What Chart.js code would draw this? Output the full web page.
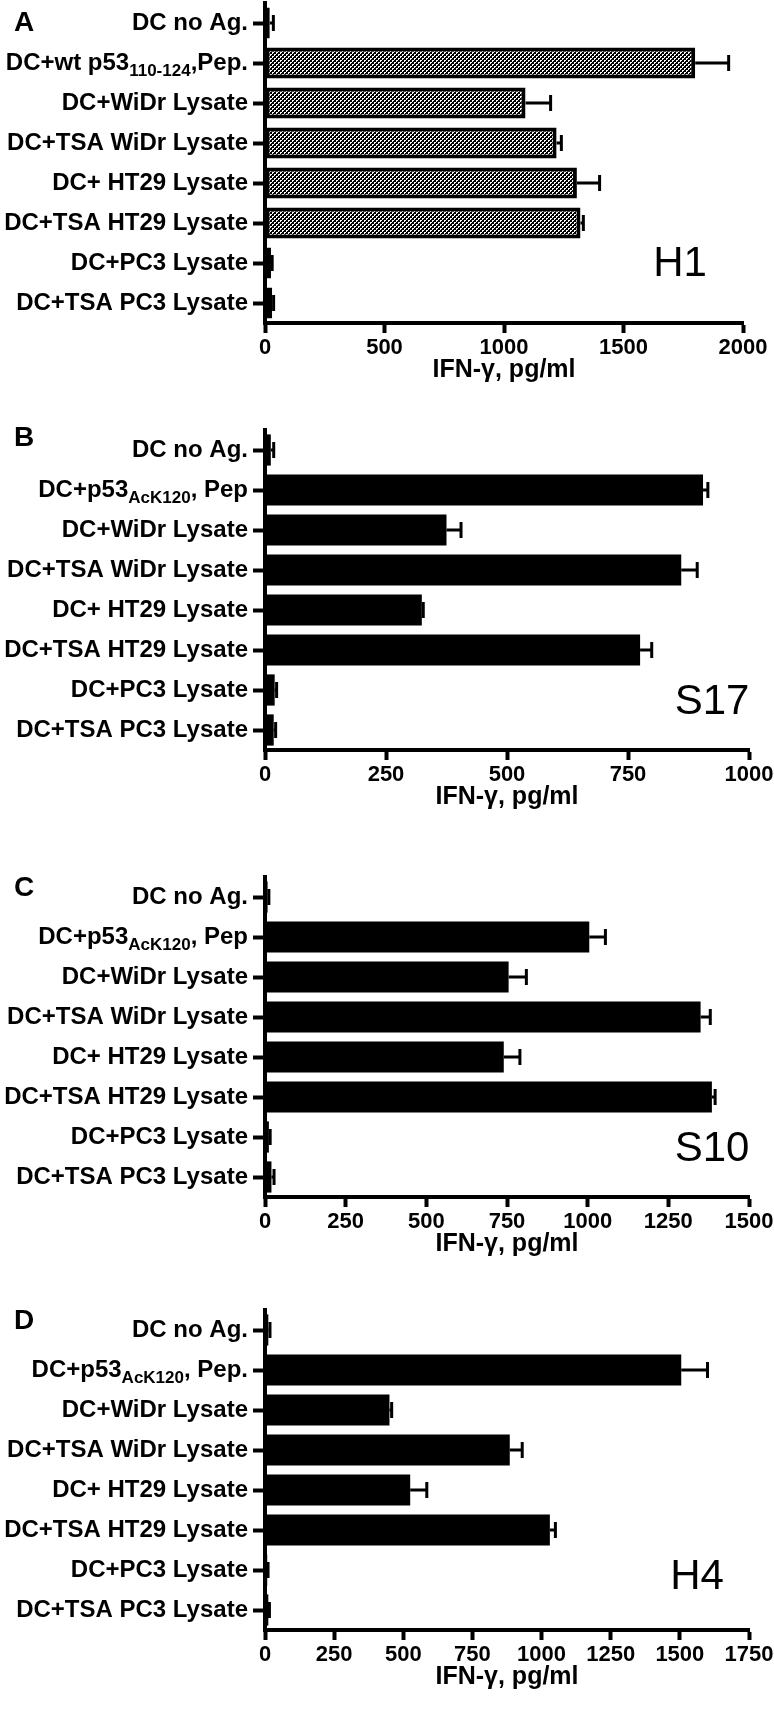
<!DOCTYPE html>
<html>
<head>
<meta charset="utf-8">
<script src="https://cdn.jsdelivr.net/npm/chart.js@4.4.1/dist/chart.umd.min.js"></script>
<style>
  html, body { margin: 0; padding: 0; background: #fff; }
  #fig { position: relative; width: 774px; height: 1711px; overflow: hidden; background: #fff; }
  .letter { position: absolute; font: bold 28px "Liberation Sans", Arial, sans-serif; transform: translate(-50%, -50%); line-height: 1; }
  .donor { position: absolute; font: 42px "Liberation Sans", Arial, sans-serif; transform: translate(-50%, -50%); line-height: 1; }
</style>
</head>
<body>
<div id="fig"></div>
<script>
/* ---------------- data ---------------- */

const labelsA = ["DC no Ag.", "DC+wt p53_{110-124},Pep.", "DC+WiDr Lysate", "DC+TSA WiDr Lysate",
                 "DC+ HT29 Lysate", "DC+TSA HT29 Lysate", "DC+PC3 Lysate", "DC+TSA PC3 Lysate"];
const valuesA = [20, 1800, 1090, 1220, 1305, 1320, 25, 30];
const errorsA = [15, 140, 105, 20, 95, 12, 5, 6];
const ticksA = [0, 500, 1000, 1500, 2000];

const labelsB = ["DC no Ag.", "DC+p53_{AcK120}, Pep", "DC+WiDr Lysate", "DC+TSA WiDr Lysate",
                 "DC+ HT29 Lysate", "DC+TSA HT29 Lysate", "DC+PC3 Lysate", "DC+TSA PC3 Lysate"];
const valuesB = [12, 905, 375, 860, 324, 775, 20, 18];
const errorsB = [6, 10, 30, 33, 3, 24, 4, 4];
const ticksB = [0, 250, 500, 750, 1000];

const labelsC = labelsB;
const valuesC = [8, 1005, 755, 1350, 740, 1385, 12, 20];
const errorsC = [4, 50, 55, 30, 50, 10, 4, 8];
const ticksC = [0, 250, 500, 750, 1000, 1250, 1500];

const labelsD = ["DC no Ag.", "DC+p53_{AcK120}, Pep.", "DC+WiDr Lysate", "DC+TSA WiDr Lysate",
                 "DC+ HT29 Lysate", "DC+TSA HT29 Lysate", "DC+PC3 Lysate", "DC+TSA PC3 Lysate"];
const valuesD = [12, 1505, 450, 885, 525, 1030, 8, 12];
const errorsD = [6, 95, 8, 45, 60, 20, 3, 4];
const ticksD = [0, 250, 500, 750, 1000, 1250, 1500, 1750];

const donors = ["H1", "S17", "S10", "H4"];
const letters = ["A", "B", "C", "D"];

/* ---------------- layout ---------------- */

const PAD_TOP = 3;
const AREA_H = 320;
const AXIS_H = 66;
const Y_W = 265;

const fig = document.getElementById("fig");

/* checker pattern for panel A (dark, fine) */
const pc = document.createElement("canvas");
pc.width = 4; pc.height = 4;
const pctx = pc.getContext("2d");
pctx.fillStyle = "#000"; pctx.fillRect(0, 0, 4, 4);
pctx.fillStyle = "#fff";
pctx.fillRect(0, 0, 2, 1); pctx.fillRect(0, 1, 1, 1);
pctx.fillRect(2, 2, 2, 1); pctx.fillRect(2, 3, 1, 1);
const checker = pctx.createPattern(pc, "repeat");

Chart.defaults.font.family = "'Liberation Sans', Arial, sans-serif";
Chart.defaults.color = "#000";

/* error bars, one side only */
const errorBars = {
    id: "errorBars",
    afterDatasetsDraw(chart) {
        const ctx = chart.ctx;
        const xs = chart.scales.x;
        chart.data.datasets.forEach((ds, d) => {
            chart.getDatasetMeta(d).data.forEach((bar, i) => {
                const xEnd = xs.getPixelForValue(ds.data[i] + ds.errors[i]);
                ctx.save();
                ctx.strokeStyle = "#000";
                ctx.lineWidth = 3;
                ctx.beginPath();
                ctx.moveTo(bar.x, bar.y);
                ctx.lineTo(xEnd, bar.y);
                ctx.moveTo(xEnd, bar.y - 8);
                ctx.lineTo(xEnd, bar.y + 8);
                ctx.stroke();
                ctx.restore();
            });
        });
    }
};

/* y labels with subscripts: text_{sub}text */
const MAIN_FONT = "bold 24px 'Liberation Sans', Arial, sans-serif";
const SUB_FONT = "bold 17px 'Liberation Sans', Arial, sans-serif";

function parseLabel(s) {
    const parts = [];
    const re = /_\{([^}]*)\}/g;
    let last = 0, m;
    while ((m = re.exec(s)) !== null) {
        if (m.index > last) parts.push({ text: s.slice(last, m.index), sub: false });
        parts.push({ text: m[1], sub: true });
        last = re.lastIndex;
    }
    if (last < s.length) parts.push({ text: s.slice(last), sub: false });
    return parts;
}

const richLabels = {
    id: "richLabels",
    afterDraw(chart) {
        const ys = chart.scales.y;
        const ctx = chart.ctx;
        ctx.save();
        ctx.fillStyle = "#000";
        ctx.textBaseline = "middle";
        ctx.textAlign = "left";
        chart.data.labels.forEach((lab, i) => {
            const y = ys.getPixelForTick(i);
            const parts = parseLabel(lab);
            let w = 0;
            parts.forEach(p => {
                ctx.font = p.sub ? SUB_FONT : MAIN_FONT;
                p.w = ctx.measureText(p.text).width;
                w += p.w;
            });
            let x = ys.right - 17 - w;
            parts.forEach(p => {
                ctx.font = p.sub ? SUB_FONT : MAIN_FONT;
                ctx.fillText(p.text, x, p.sub ? y + 8 : y);
                x += p.w;
            });
        });
        ctx.restore();
    }
};

function makePanel(labels, values, errors, ticks, top, right, fill, border) {
    const canvas = document.createElement("canvas");
    canvas.width = 774;
    canvas.height = PAD_TOP + AREA_H + AXIS_H;
    canvas.style.position = "absolute";
    canvas.style.left = "0px";
    canvas.style.top = (top - PAD_TOP) + "px";
    fig.appendChild(canvas);

    return new Chart(canvas.getContext("2d"), {
        type: "bar",
        data: {
            labels: labels,
            datasets: [{
                data: values,
                errors: errors,
                backgroundColor: fill,
                borderColor: "#000",
                borderWidth: border,
                borderSkipped: false,
                barPercentage: 0.78,
                categoryPercentage: 1
            }]
        },
        options: {
            indexAxis: "y",
            responsive: false,
            animation: false,
            events: [],
            layout: { padding: { top: PAD_TOP, left: 0, right: 774 - right, bottom: 0 } },
            plugins: { legend: { display: false }, tooltip: { enabled: false } },
            scales: {
                x: {
                    type: "linear",
                    min: ticks[0],
                    max: ticks[ticks.length - 1],
                    afterBuildTicks: s => { s.ticks = ticks.map(v => ({ value: v })); },
                    afterFit: s => { s.height = AXIS_H; s.paddingLeft = 0; s.paddingRight = 0; },
                    border: { display: true, color: "#000", width: 4 },
                    grid: { drawOnChartArea: false, drawTicks: true, tickLength: 10, tickWidth: 4, tickColor: "#000" },
                    ticks: {
                        color: "#000", padding: 2, maxRotation: 0, autoSkip: false,
                        font: { size: 22, weight: "bold" },
                        callback: v => String(v)
                    },
                    title: {
                        display: true, text: "IFN-γ, pg/ml", color: "#000",
                        font: { size: 25, weight: "bold" }, padding: { top: 4, bottom: 4 }
                    }
                },
                y: {
                    type: "category",
                    offset: true,
                    afterFit: s => { s.width = Y_W; s.paddingTop = 0; s.paddingBottom = 0; },
                    border: { display: true, color: "#000", width: 4 },
                    grid: { drawOnChartArea: false, drawTicks: true, tickLength: 12, tickWidth: 4, tickColor: "#000", offset: false },
                    ticks: { display: false }
                }
            }
        },
        plugins: [errorBars, richLabels]
    });
}

const panelTops = [3, 430, 877, 1310];
const panelRights = [743, 749, 749, 749];

makePanel(labelsA, valuesA, errorsA, ticksA, panelTops[0], panelRights[0], checker, 4);
makePanel(labelsB, valuesB, errorsB, ticksB, panelTops[1], panelRights[1], "#000", 0);
makePanel(labelsC, valuesC, errorsC, ticksC, panelTops[2], panelRights[2], "#000", 0);
makePanel(labelsD, valuesD, errorsD, ticksD, panelTops[3], panelRights[3], "#000", 0);

/* panel letters and donor ids */
const letterPos = [[24, 22], [24, 437], [24, 887], [24, 1320]];
const donorPos = [[680, 262], [712, 700], [712, 1147], [697, 1575]];

letters.forEach((t, i) => {
    const el = document.createElement("div");
    el.className = "letter";
    el.textContent = t;
    el.style.left = letterPos[i][0] + "px";
    el.style.top = letterPos[i][1] + "px";
    fig.appendChild(el);
});

donors.forEach((t, i) => {
    const el = document.createElement("div");
    el.className = "donor";
    el.textContent = t;
    el.style.left = donorPos[i][0] + "px";
    el.style.top = donorPos[i][1] + "px";
    fig.appendChild(el);
});
</script>
</body>
</html>
